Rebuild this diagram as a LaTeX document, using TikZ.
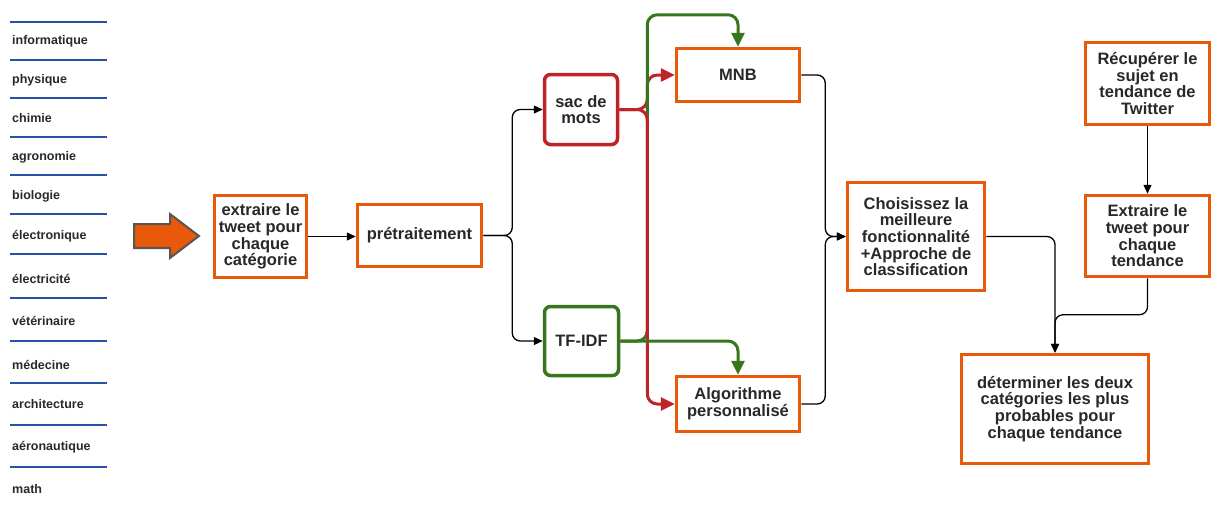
\documentclass[tikz,border=0pt]{standalone}
\usepackage{fontspec}
\setmainfont{Liberation Sans}
\usetikzlibrary{arrows.meta,calc}
\definecolor{borange}{RGB}{232,90,10}
\definecolor{bred}{RGB}{190,35,40}
\definecolor{bgreen}{RGB}{56,118,29}
\definecolor{bblue}{RGB}{40,80,170}
\definecolor{txt}{RGB}{40,40,40}
\definecolor{agray}{RGB}{85,85,85}
\newcommand\boxfont{\fontsize{16.5}{16.7}\selectfont\bfseries}
\newcommand\catfont{\fontsize{12.5}{14}\selectfont\bfseries}
\begin{document}
\begin{tikzpicture}[x=1pt,y=-1pt,
  box/.style={draw=borange, line width=3.5pt, fill=white, inner sep=0pt, align=center, text=txt, font=\boxfont},
  rbox/.style={box, draw=bred, rounded corners=6pt},
  gbox/.style={box, draw=bgreen, rounded corners=6pt},
  conn/.style={line width=1.3pt, rounded corners=8pt, -{Triangle[length=9pt,width=8pt]}},
  rconn/.style={draw=bred, line width=3pt, rounded corners=10pt, -{Triangle[length=14pt,width=13pt]}},
  gconn/.style={draw=bgreen, line width=3pt, rounded corners=10pt, -{Triangle[length=14pt,width=13pt]}},
  cat/.style={anchor=west, font=\catfont, text=txt, inner sep=0pt},
  sepline/.style={draw=bblue, line width=2pt}
]
\useasboundingbox (0,0) rectangle (1212,504);

% category list
\foreach \y in {22,60,98,137,175,214,254,298,341,383,425,467}
  \draw[sepline] (10,\y) -- (107,\y);
\node[cat] (c1) at (12,41) {informatique};
\node[cat] (c2) at (12,80) {physique};
\node[cat] (c3) at (12,118) {chimie};
\node[cat] (c4) at (12,157) {agronomie};
\node[cat] (c5) at (12,196) {biologie};
\node[cat] (c6) at (12,236) {électronique};
\node[cat] (c7) at (12,279) {électricité};
\node[cat] (c8) at (12,321) {vétérinaire};
\node[cat] (c9) at (12,365) {médecine};
\node[cat] (c10) at (12,404) {architecture};
\node[cat] (c11) at (12,447) {aéronautique};
\node[cat] (c12) at (12,489) {math};

% big arrow
\draw[fill=borange, draw=agray, line width=2pt, line join=miter]
  (134,224) -- (170,224) -- (170,214) -- (199,236) -- (170,258) -- (170,248) -- (134,248) -- cycle;

% boxes
\node[box, minimum width=92pt, minimum height=82pt] (ext1) at (260.5,236.5) {extraire le\\tweet pour\\chaque\\catégorie};
\node[box, minimum width=124pt, minimum height=62pt] (pret) at (419.5,235.5) {prétraitement};
\node[rbox, minimum width=73pt, minimum height=70pt] (sac) at (581,109.5) {sac de\\mots};
\node[gbox, minimum width=74pt, minimum height=69pt] (tfidf) at (581.5,341) {TF-IDF};
\node[box, minimum width=123pt, minimum height=53pt] (mnb) at (738,75) {MNB};
\node[box, minimum width=123pt, minimum height=55pt] (algo) at (738,404) {Algorithme\\personnalisé};
\node[box, minimum width=137pt, minimum height=108pt] (chois) at (916,236.5) {Choisissez la\\meilleure\\fonctionnalité\\+Approche de\\classification};
\node[box, minimum width=124pt, minimum height=82pt] (rec) at (1147.5,83.5) {Récupérer le\\sujet en\\tendance de\\Twitter};
\node[box, minimum width=124pt, minimum height=81pt] (ext2) at (1147.5,236) {Extraire le\\tweet pour\\chaque\\tendance};
\node[box, minimum width=187pt, minimum height=109pt] (det) at (1055,409) {déterminer les deux\\catégories les plus\\probables pour\\chaque tendance};

% black connectors
\draw[conn] (ext1.east) -- (ext1.east -| pret.west);
\draw[conn] (pret.east) -- ++(29,0) |- (sac.west);
\draw[conn] (pret.east) -- ++(29,0) |- (tfidf.west);
\draw[conn] (mnb.east) -- ++(24,0) |- (chois.west);
\draw[conn] (algo.east) -- ++(24,0) |- (chois.west);
\draw[conn] (chois.east) -| (det.north);
\draw[conn] (rec.south) -- (ext2.north);
\draw[conn] (ext2.south) |- ([yshift=38pt]det.north) -- (det.north);

% coloured connectors
\draw[rconn] (sac.east) -- ++(28,0) |- (mnb.west);
\draw[gconn] (tfidf.east) -- ++(27,0) |- ([yshift=32pt]mnb.north) -- (mnb.north);
\draw[rconn] (sac.east) -- ++(28,0) |- (algo.west);
\draw[gconn] (tfidf.east) -| (algo.north);
\end{tikzpicture}
\end{document}
